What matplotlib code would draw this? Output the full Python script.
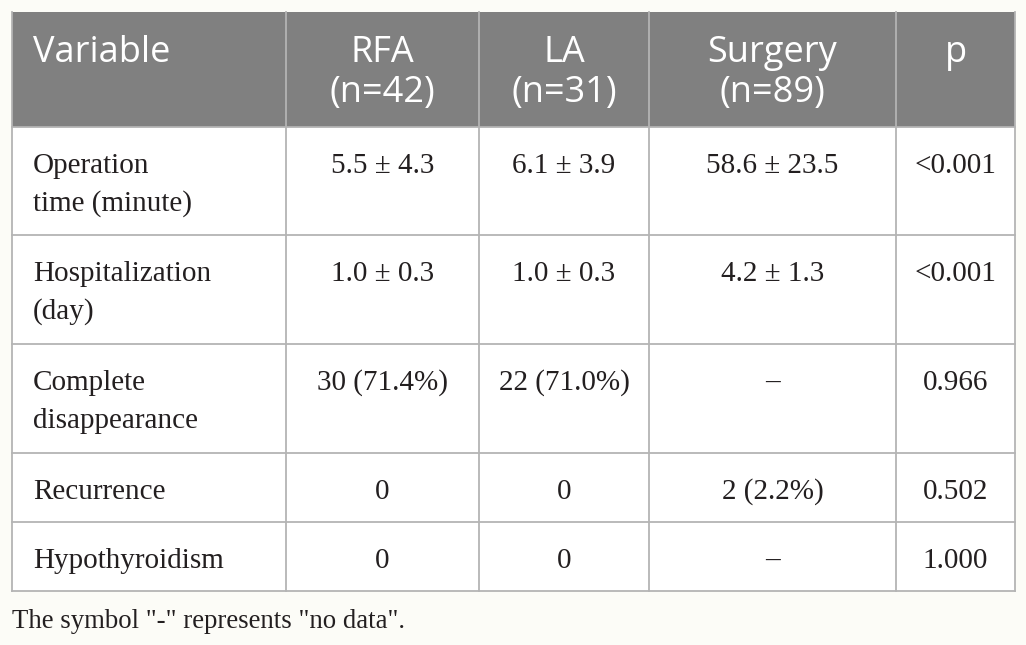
import matplotlib
matplotlib.use("Agg")
import matplotlib.pyplot as plt
from matplotlib.patches import Rectangle

headers = ["Variable", "RFA\n(n=42)", "LA\n(n=31)", "Surgery\n(n=89)", "p"]
variables = ["Operation\ntime (minute)", "Hospitalization\n(day)",
             "Complete\ndisappearance", "Recurrence", "Hypothyroidism"]
rfa = ["5.5 ± 4.3", "1.0 ± 0.3", "30 (71.4%)", "0", "0"]
la = ["6.1 ± 3.9", "1.0 ± 0.3", "22 (71.0%)", "0", "0"]
surgery = ["58.6 ± 23.5", "4.2 ± 1.3", "–", "2 (2.2%)", "–"]
pvals = ["<0.001", "<0.001", "0.966", "0.502", "1.000"]
note = 'The symbol "-" represents "no data".'

# layout in pixels
col_x = [12, 286, 479, 649, 896, 1015]
row_y = [12, 127, 235, 344, 453, 522, 591]
grid = "#b4b4b4"

fig = plt.figure(figsize=(10.26, 6.45), dpi=100)
fig.patch.set_facecolor("#fcfcf7")
ax = fig.add_axes([0, 0, 1, 1])
ax.set_xlim(0, 1026)
ax.set_ylim(645, 0)
ax.axis("off")

# table body and header
ax.add_patch(Rectangle((col_x[0], row_y[0]), col_x[-1] - col_x[0], row_y[-1] - row_y[0],
                       facecolor="white", edgecolor="none"))
ax.add_patch(Rectangle((col_x[0], row_y[0]), col_x[-1] - col_x[0], row_y[1] - row_y[0],
                       facecolor="#808080", edgecolor="none"))

for y in row_y[1:]:
    ax.plot([col_x[0], col_x[-1]], [y, y], color=grid, lw=1.3)
for x in col_x:
    ax.plot([x, x], [row_y[0], row_y[-1]], color=grid, lw=1.3)

def center(i):
    return (col_x[i] + col_x[i + 1]) / 2

def put(i, y0, s, step, **kw):
    # one text line at a time, on its baseline
    for k, line in enumerate(s.split("\n")):
        if i == 0:
            ax.text(col_x[0] + 21, y0 + k * step, line, ha="left", va="baseline", **kw)
        else:
            ax.text(center(i), y0 + k * step, line, ha="center", va="baseline", **kw)

hfont = dict(family="Open Sans", fontsize=26, color="white")
for i, h in enumerate(headers):
    put(i, row_y[0] + 50, h, 40, **hfont)

bfont = dict(family="Liberation Serif", fontsize=21, color="#231f20")
cols = [variables, rfa, la, surgery, pvals]
for r in range(len(variables)):
    for c, vals in enumerate(cols):
        put(c, row_y[r + 1] + 46, vals[r], 38, **bfont)

ax.text(col_x[0], 628, note, ha="left", va="baseline", family="Liberation Serif",
        fontsize=19.3, color="#231f20")

fig.savefig("out.png", dpi=100, facecolor=fig.get_facecolor())
